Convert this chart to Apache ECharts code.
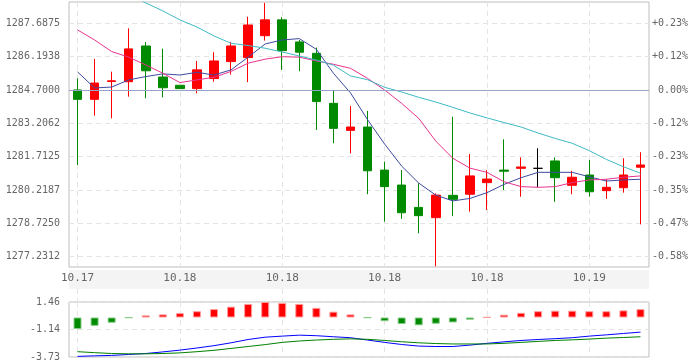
<!DOCTYPE html>
<html><head><meta charset="utf-8">
<script src="https://cdn.jsdelivr.net/npm/echarts@6/dist/echarts.min.js"></script>
<style>html,body{margin:0;padding:0;background:#fff}#c{width:694px;height:362px}</style>
</head><body><div id="c"></div>
<script>
const categories = ['10.17','10.17','10.17','10.17','10.17',
  '10.18','10.18','10.18','10.18','10.18','10.18','10.18','10.18','10.18','10.18','10.18','10.18',
  '10.18','10.18','10.18','10.18','10.18','10.18','10.18','10.18','10.18','10.18','10.18','10.18',
  '10.19','10.19','10.19','10.19','10.19'];
const candleOpen  = [1284.70,1284.28,1285.08,1285.07,1286.67,1285.28,1284.91,1284.76,1285.21,1285.97,1286.15,1287.13,1287.84,1286.85,1286.34,1284.10,1282.89,1283.04,1281.11,1280.44,1279.44,1278.98,1279.98,1280.03,1280.55,1281.11,1281.19,1281.19,1281.52,1280.43,1280.89,1280.19,1280.32,1281.24];
const candleClose = [1284.28,1285.01,1285.11,1286.54,1285.56,1284.80,1284.76,1285.60,1286.00,1286.67,1287.61,1287.84,1286.46,1286.39,1284.18,1282.98,1283.04,1281.08,1280.37,1279.20,1279.07,1279.99,1279.80,1280.85,1280.71,1281.06,1281.25,1281.19,1280.77,1280.79,1280.14,1280.34,1280.89,1281.34];
const candleLow   = [1281.34,1283.55,1283.43,1284.40,1284.33,1284.37,1284.76,1284.55,1285.07,1285.39,1285.05,1286.91,1285.60,1285.54,1282.91,1282.31,1281.86,1280.03,1278.80,1278.93,1278.28,1276.80,1279.05,1279.25,1279.32,1280.22,1279.92,1280.34,1279.69,1280.03,1279.92,1279.82,1280.10,1278.68];
const candleHigh  = [1285.22,1286.09,1285.52,1287.46,1286.85,1286.55,1284.91,1286.00,1286.39,1286.85,1287.98,1288.60,1287.96,1286.94,1286.60,1284.70,1283.98,1283.76,1281.49,1281.11,1280.52,1280.07,1283.50,1281.83,1281.11,1282.49,1281.68,1282.09,1281.68,1281.08,1281.56,1280.70,1281.64,1281.91];
const ma5  = [1285.51,1284.79,1284.83,1285.15,1285.30,1285.42,1285.37,1285.49,1285.37,1285.60,1286.17,1286.76,1286.94,1287.00,1286.52,1285.45,1284.57,1283.37,1282.28,1281.29,1280.53,1279.99,1279.73,1279.84,1280.10,1280.47,1280.77,1281.01,1281.01,1281.01,1280.81,1280.62,1280.67,1280.70];
const ma10 = [1287.39,1286.94,1286.42,1286.17,1285.82,1285.45,1285.03,1285.15,1285.27,1285.53,1285.90,1286.08,1286.19,1286.17,1286.00,1285.85,1285.67,1285.22,1284.70,1284.10,1283.43,1282.41,1281.64,1281.20,1281.01,1280.59,1280.37,1280.34,1280.37,1280.55,1280.67,1280.70,1280.79,1280.85];
const ma20 = [1290.21,1289.81,1289.41,1289.00,1288.60,1288.24,1287.84,1287.52,1287.12,1286.79,1286.69,1286.57,1286.40,1286.22,1286.04,1285.81,1285.33,1285.16,1284.82,1284.61,1284.37,1284.16,1283.92,1283.67,1283.45,1283.24,1283.04,1282.77,1282.53,1282.31,1281.98,1281.59,1281.26,1280.97];
const macdHist = [-1.09,-0.79,-0.50,-0.03,0.20,0.29,0.41,0.59,0.79,1.02,1.28,1.46,1.37,1.28,0.91,0.55,0.29,-0.03,-0.35,-0.62,-0.74,-0.59,-0.47,-0.21,0.02,0.26,0.44,0.59,0.64,0.64,0.59,0.59,0.67,0.79];
const dif = [-3.67,-3.62,-3.58,-3.49,-3.40,-3.25,-3.08,-2.88,-2.66,-2.39,-2.08,-1.86,-1.76,-1.67,-1.72,-1.82,-1.91,-2.13,-2.35,-2.55,-2.70,-2.74,-2.74,-2.61,-2.44,-2.30,-2.17,-2.08,-2.00,-1.91,-1.76,-1.64,-1.51,-1.38];
const dea = [-3.23,-3.32,-3.40,-3.43,-3.43,-3.40,-3.34,-3.23,-3.10,-2.92,-2.74,-2.56,-2.35,-2.22,-2.13,-2.06,-2.02,-2.06,-2.17,-2.29,-2.39,-2.46,-2.50,-2.50,-2.50,-2.44,-2.35,-2.26,-2.17,-2.11,-2.04,-1.95,-1.89,-1.82];
const prevClose = 1284.70;
const priceMin = 1276.77, priceMax = 1288.64;
const priceTicks = [1277.2312,1278.7250,1280.2187,1281.7125,1283.2062,1284.7000,1286.1938,1287.6875];
const priceTickLabels = ['1277.2312','1278.7250','1280.2187','1281.7125','1283.2062','1284.7000','1286.1938','1287.6875'];
const pctTickLabels = ['-0.58%','-0.47%','-0.35%','-0.23%','-0.12%',' 0.00%','+0.12%','+0.23%'];
const macdMin = -3.73, macdMax = 1.46;
const macdTicks = [-3.73,-1.135,1.46];
const macdTickLabels = ['-3.73','-1.14','1.46'];

const FONT = 'DejaVu Sans Mono';
const RED = '#ff0000', GREEN = '#008a00';
function pick(ticks, labels) {
  return function (v) {
    for (let i = 0; i < ticks.length; i++) if (Math.abs(ticks[i] - v) < 1e-6) return labels[i];
    return '';
  };
}
const vSplit = {show: true, interval: 5, alignWithLabel: true, lineStyle: {color: '#e4e4e4', type: [5, 4], width: 1}};
const hidden = {show: false};
const candleData = categories.map((c, i) => [candleOpen[i], candleClose[i], candleLow[i], candleHigh[i]]);
const histData = macdHist.map(v => ({
  value: v,
  itemStyle: v >= 0 ? {color: RED, borderColor: '#ff9a9a', borderWidth: 1}
                    : {color: GREEN, borderColor: '#86cc86', borderWidth: 1}
}));
const labelStyle = {color: '#666', fontFamily: FONT, fontSize: 10};

const chart = echarts.init(document.getElementById('c'), null, {renderer: 'canvas'});
chart.setOption({
  animation: false,
  backgroundColor: '#fff',
  grid: [
    {left: 69, top: 2, width: 580, height: 265, show: true, borderColor: '#bdbdbd', borderWidth: 1, backgroundColor: 'transparent'},
    {left: 69, top: 302, width: 580, height: 59, show: true, borderColor: '#bdbdbd', borderWidth: 1, backgroundColor: 'transparent'},
    {left: 69, top: 270, width: 580, height: 19, show: true, borderWidth: 0, backgroundColor: '#f4f4f4'},
    {left: 69, top: 289, width: 580, height: 13, show: false}
  ],
  xAxis: [
    {type: 'category', gridIndex: 0, data: categories, boundaryGap: true, axisLine: hidden, axisTick: hidden, axisLabel: hidden, splitLine: vSplit},
    {type: 'category', gridIndex: 1, data: categories, boundaryGap: true, axisLine: hidden, axisTick: hidden, axisLabel: hidden, splitLine: vSplit},
    {type: 'category', gridIndex: 2, data: categories, boundaryGap: true, position: 'top', axisLine: hidden, axisTick: hidden,
      axisLabel: Object.assign({interval: 5, inside: true, margin: 3}, labelStyle, {fontSize: 11}), splitLine: hidden},
    {type: 'category', gridIndex: 3, data: categories, boundaryGap: true, axisLine: hidden, axisTick: hidden, axisLabel: hidden, splitLine: vSplit}
  ],
  yAxis: [
    {type: 'value', gridIndex: 0, min: priceMin, max: priceMax, position: 'left', axisLine: hidden,
      axisTick: {show: false, customValues: priceTicks},
      axisLabel: Object.assign({customValues: priceTicks, formatter: pick(priceTicks, priceTickLabels), margin: 9}, labelStyle),
      splitLine: {show: true, lineStyle: {color: '#e4e4e4', type: [5, 4], width: 1}}},
    {type: 'value', gridIndex: 0, min: priceMin, max: priceMax, position: 'right', axisLine: hidden,
      axisTick: {show: false, customValues: priceTicks},
      axisLabel: Object.assign({customValues: priceTicks, formatter: pick(priceTicks, pctTickLabels), margin: 3}, labelStyle),
      splitLine: hidden},
    {type: 'value', gridIndex: 1, min: macdMin, max: macdMax, position: 'left', axisLine: hidden,
      axisTick: {show: false, customValues: macdTicks},
      axisLabel: Object.assign({customValues: macdTicks, formatter: pick(macdTicks, macdTickLabels), margin: 9}, labelStyle),
      splitLine: {show: true, lineStyle: {color: '#e4e4e4', type: [5, 4], width: 1}}},
    {type: 'value', gridIndex: 2, show: false},
    {type: 'value', gridIndex: 3, show: false}
  ],
  series: [
    {type: 'candlestick', xAxisIndex: 0, yAxisIndex: 0, data: candleData, barWidth: 9,
      itemStyle: {color: RED, color0: GREEN, borderColor: RED, borderColor0: GREEN, borderColorDoji: '#000000', borderWidth: 1},
      markLine: {silent: true, symbol: 'none', label: {show: false},
        lineStyle: {color: '#97a2c9', type: 'solid', width: 1.2}, data: [{yAxis: prevClose}]}},
    {type: 'line', xAxisIndex: 0, yAxisIndex: 0, data: ma5, symbol: 'none', lineStyle: {color: '#3e4aa0', width: 1}, z: 3},
    {type: 'line', xAxisIndex: 0, yAxisIndex: 0, data: ma10, symbol: 'none', lineStyle: {color: '#e8348e', width: 1}, z: 3},
    {type: 'line', xAxisIndex: 0, yAxisIndex: 0, data: ma20, symbol: 'none', lineStyle: {color: '#3fbac5', width: 1}, z: 3},
    {type: 'bar', xAxisIndex: 1, yAxisIndex: 2, data: histData, barWidth: 8},
    {type: 'line', xAxisIndex: 1, yAxisIndex: 2, data: dif, symbol: 'none', lineStyle: {color: '#0000ff', width: 1}, z: 3},
    {type: 'line', xAxisIndex: 1, yAxisIndex: 2, data: dea, symbol: 'none', lineStyle: {color: '#008000', width: 1}, z: 3}
  ]
});
</script></body></html>
